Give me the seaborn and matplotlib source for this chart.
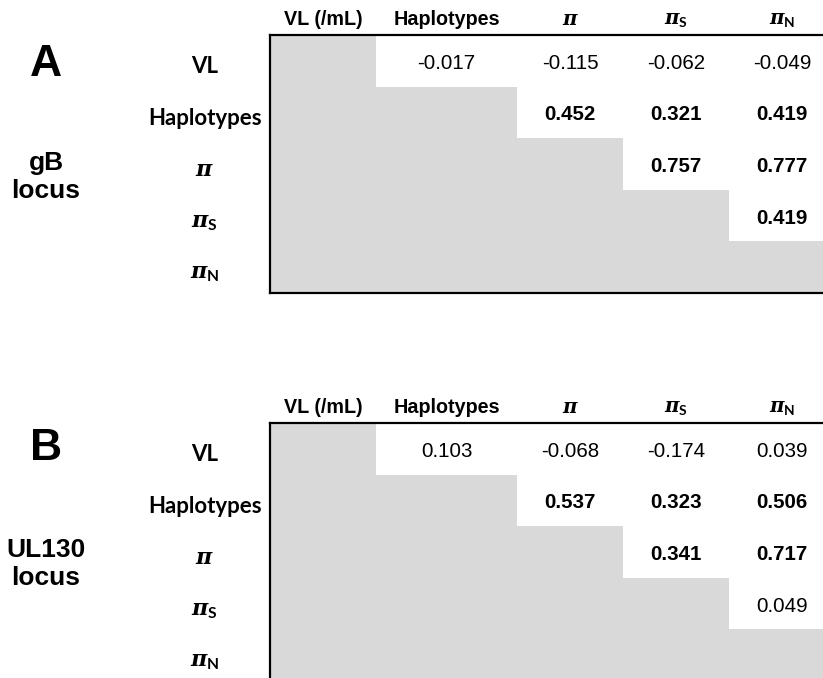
import numpy as np
import matplotlib
matplotlib.use("Agg")
import matplotlib.pyplot as plt
import seaborn as sns
from matplotlib.colors import ListedColormap

sns.set_style("white")
plt.rcParams["font.family"] = ["Liberation Sans", "DejaVu Sans"]
plt.rcParams["text.color"] = "black"
plt.rcParams["xtick.color"] = "black"
plt.rcParams["ytick.color"] = "black"
plt.rcParams["axes.labelcolor"] = "black"
plt.rcParams["mathtext.fontset"] = "custom"
plt.rcParams["mathtext.it"] = "DejaVu Serif:italic:bold"
plt.rcParams["mathtext.rm"] = "Liberation Sans"
plt.rcParams["mathtext.sf"] = "Lato:bold"

# Variables compared in each locus
row_labels = ["VL", "Haplotypes", r"$\pi$", r"$\pi_{\mathsf{S}}$", r"$\pi_{\mathsf{N}}$"]
col_labels = ["VL (/mL)", "Haplotypes", r"$\pi$", r"$\pi_{\mathsf{S}}$", r"$\pi_{\mathsf{N}}$"]

nan = np.nan

# Pairwise correlation coefficients (upper triangle only)
gb_corr = [
    [nan, -0.017, -0.115, -0.062, -0.049],
    [nan, nan, 0.452, 0.321, 0.419],
    [nan, nan, nan, 0.757, 0.777],
    [nan, nan, nan, nan, 0.419],
    [nan, nan, nan, nan, nan],
]
gb_signif = [
    [0, 0, 0, 0, 0],
    [0, 0, 1, 1, 1],
    [0, 0, 0, 1, 1],
    [0, 0, 0, 0, 1],
    [0, 0, 0, 0, 0],
]

ul130_corr = [
    [nan, 0.103, -0.068, -0.174, 0.039],
    [nan, nan, 0.537, 0.323, 0.506],
    [nan, nan, nan, 0.341, 0.717],
    [nan, nan, nan, nan, 0.049],
    [nan, nan, nan, nan, nan],
]
ul130_signif = [
    [0, 0, 0, 0, 0],
    [0, 0, 1, 1, 1],
    [0, 0, 0, 1, 1],
    [0, 0, 0, 0, 0],
    [0, 0, 0, 0, 0],
]

# Relative column widths (the "Haplotypes" column is wider)
col_units = [3, 4, 3, 3, 3]

W, H = 823, 678
fig = plt.figure(figsize=(W / 100, H / 100), dpi=100)


def draw_panel(ax, corr, signif):
    corr = np.array(corr, dtype=float)
    shade = np.isnan(corr).astype(float)
    wide = np.repeat(shade, col_units, axis=1)
    sns.heatmap(wide, ax=ax, cmap=ListedColormap(["white", "#d9d9d9"]),
                vmin=0, vmax=1, cbar=False, xticklabels=False, yticklabels=False)
    edges = np.concatenate([[0], np.cumsum(col_units)])
    centers = (edges[:-1] + edges[1:]) / 2
    for i in range(corr.shape[0]):
        for j in range(corr.shape[1]):
            if not np.isnan(corr[i, j]):
                ax.text(centers[j], i + 0.55, f"{corr[i, j]:.3f}",
                        ha="center", va="center", fontsize=14.8,
                        fontweight="bold" if signif[i][j] else "normal")
    ax.xaxis.tick_top()
    ax.set_xticks(centers)
    ax.set_xticklabels(col_labels, fontsize=14.2, fontweight="bold", va="baseline")
    ax.tick_params(axis="x", length=0, pad=7.5)
    ax.set_yticks(np.arange(corr.shape[0]) + 0.57)
    ax.set_yticklabels(row_labels, fontsize=16, fontweight="bold",
                       family=["Lato", "DejaVu Sans"], rotation=0)
    for lab in ax.get_yticklabels():
        lab.set_ha("center")
    ax.tick_params(axis="y", length=0, pad=47)
    for side in ["top", "left", "bottom"]:
        ax.spines[side].set_visible(True)
        ax.spines[side].set_color("black")
        ax.spines[side].set_linewidth(1.6)
    ax.spines["right"].set_visible(False)


ax_a = fig.add_axes([270 / W, 1 - 293 / H, 565 / W, 258 / H])
draw_panel(ax_a, gb_corr, gb_signif)
ax_b = fig.add_axes([270 / W, 1 - 681 / H, 565 / W, 258 / H])
draw_panel(ax_b, ul130_corr, ul130_signif)

fig.text(46 / W, 1 - 64 / H, "A", fontsize=32, fontweight="bold", ha="center", va="center")
fig.text(46 / W, 1 - 177 / H, "gB\nlocus", fontsize=19, fontweight="bold",
         ha="center", va="center", linespacing=1.25)
fig.text(46 / W, 1 - 448 / H, "B", fontsize=32, fontweight="bold", ha="center", va="center")
fig.text(46 / W, 1 - 564 / H, "UL130\nlocus", fontsize=19, fontweight="bold",
         ha="center", va="center", linespacing=1.25)

fig.savefig("out.png", dpi=100)
